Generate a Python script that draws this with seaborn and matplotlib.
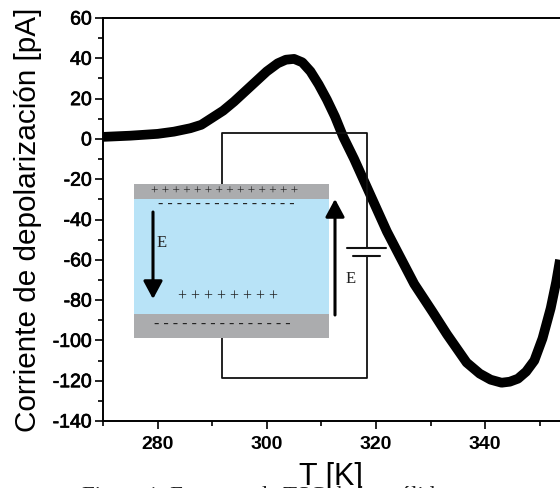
"""
plot.py - TSC depolarization current with the capacitor sketch on top.
"""

import pandas as pd
import matplotlib
matplotlib.use("Agg")
import matplotlib.pyplot as plt
import matplotlib.patheffects as pe
import matplotlib.ticker as mticker
from matplotlib.patches import Rectangle
import seaborn as sns

# ─── Data ───────────────────────────────────────────────────────
temperature = [270, 275, 280, 283, 286, 288, 290, 292, 294, 296, 298, 300, 302, 303.5,
               305, 306.5, 308, 309.5, 311, 312.5, 314, 316, 318, 320, 322, 324.4, 327,
               330.4, 333, 336.6, 339, 341, 343, 344.5, 346, 347.5, 349, 350.5, 352,
               353, 353.7]
current = [1, 1.6, 2.5, 3.6, 5.3, 7, 10.5, 14, 18.5, 23.5, 28.5, 33.5, 37.5, 39.3,
           39.7, 38, 33.5, 27, 19.5, 11, 1, -10, -22, -34, -46, -58.5, -72,
           -86, -97, -111, -116.5, -119.5, -121, -120.5, -119, -115.5, -110, -99, -84,
           -71, -60]
x_ticks = [280, 300, 320, 340]
y_ticks = [60, 40, 20, 0, -20, -40, -60, -80, -100, -120, -140]

sns.set_theme(style="white")
plt.rcParams["font.family"] = ["Liberation Sans", "DejaVu Sans"]
plt.rcParams["axes.unicode_minus"] = False

W, H = 560, 488
fig = plt.figure(figsize=(W / 100, H / 100), dpi=100, facecolor="white")

# ─── Main axes ──────────────────────────────────────────────────
ax = fig.add_axes([103 / W, 1 - 421 / H, (W - 103) / W, (421 - 18) / H])
df = pd.DataFrame({"T": temperature, "I": current})
sns.lineplot(data=df, x="T", y="I", ax=ax, color="black", linewidth=7, sort=False,
             errorbar=None, zorder=5, solid_capstyle="butt")

ax.set_xlim(270, 353.7)
ax.set_ylim(-140, 60)
ax.set_xticks(x_ticks)
ax.set_yticks(y_ticks)
ax.xaxis.set_minor_locator(mticker.MultipleLocator(10))
ax.yaxis.set_minor_locator(mticker.MultipleLocator(10))
ax.tick_params(axis="both", which="major", length=6, width=1.2, color="black",
               labelsize=14, left=True, bottom=True, labelcolor="black")
ax.tick_params(axis="y", which="major", pad=2)
ax.tick_params(axis="x", which="major", pad=5)
ax.tick_params(axis="both", which="minor", length=3.5, width=1.2, color="black",
               left=True, bottom=True)
for lbl in ax.get_xticklabels():
    lbl.set_fontweight("bold")
for lbl in ax.get_yticklabels():
    lbl.set_path_effects([pe.withStroke(linewidth=0.5, foreground="black")])
ax.set_xlabel("")
ax.set_ylabel("")
for side in ["left", "bottom", "top"]:
    ax.spines[side].set_visible(True)
    ax.spines[side].set_color("black")
    ax.spines[side].set_linewidth(1.4)
ax.spines["right"].set_visible(False)

fig.text(28 / W, 1 - 220 / H, "Corriente de depolarización [pA]", rotation=90,
         ha="center", va="center", fontsize=21.4, color="black")

# ─── Capacitor sketch, in pixel coordinates ─────────────────────
sk = fig.add_axes([0, 0, 1, 1], facecolor="none")
sk.set_xlim(0, W)
sk.set_ylim(H, 0)
sk.axis("off")

sk.add_patch(Rectangle((134, 199), 195, 115, fc="#B8E3F7", ec="none"))
sk.add_patch(Rectangle((134, 184), 195, 15, fc="#ABACAE", ec="none"))
sk.add_patch(Rectangle((134, 314), 195, 24, fc="#ABACAE", ec="none"))

wire = dict(color="#111111", lw=1.3, solid_capstyle="butt")
sk.plot([222, 222, 367, 367], [184, 133, 133, 248], **wire)
sk.plot([367, 367, 222, 222], [256, 378, 378, 338], **wire)
sk.plot([347, 386], [248, 248], color="#111111", lw=1.5)
sk.plot([353, 380], [256, 256], color="#111111", lw=1.5)

serif = ["Liberation Serif", "DejaVu Serif"]
sk.text(225, 191.5, "+ + + + + + + + + + + + + +", ha="center", va="center",
        fontsize=9.5, family=serif, color="#222222")
sk.text(226, 204.5, "- - - - - - - - - - - - - - -", ha="center", va="center",
        fontsize=11.5, family=serif, color="#222222", fontweight="bold")
sk.text(228, 296, "+ + + + + + + +", ha="center", va="center",
        fontsize=11.5, family=serif, color="#222222")
sk.text(222, 324.5, "- - - - - - - - - - - - - - -", ha="center", va="center",
        fontsize=11.5, family=serif, color="#222222", fontweight="bold")
sk.text(162, 243, "E", ha="center", va="center", fontsize=12, family=serif, color="#222222")
sk.text(351, 279, "E", ha="center", va="center", fontsize=12, family=serif, color="#222222")

arrow = dict(arrowstyle="-|>,head_width=0.58,head_length=1.08", color="black", lw=2.2,
             shrinkA=0, shrinkB=0, mutation_scale=10)
sk.annotate("", xy=(153, 299), xytext=(153, 212), arrowprops=arrow)
sk.annotate("", xy=(335, 199), xytext=(335, 315), arrowprops=arrow)

# caption is cut off by the bottom edge, only the tops of the letters show
sk.text(82, 486, "Figura 1. Espectro de TSC de los sólidos", ha="left", va="top",
        fontsize=16.5, family=serif, color="#222222", clip_on=False)
sk.text(331, 485, "T [K]", ha="center", va="baseline", fontsize=22, color="black",
        zorder=6)

fig.savefig("out.png", dpi=100, facecolor="white")
